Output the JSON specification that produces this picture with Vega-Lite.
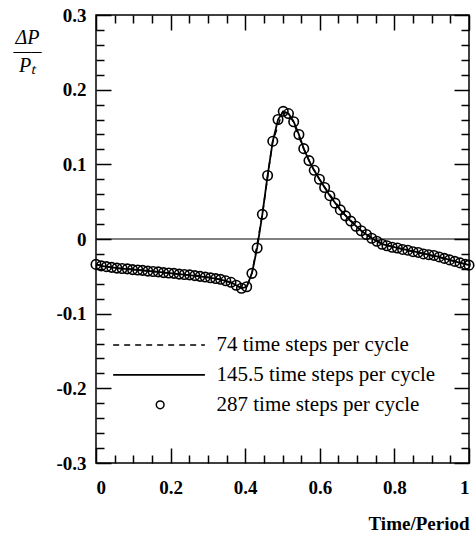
{
  "$schema": "https://vega.github.io/schema/vega-lite/v6.json",
  "width": 373,
  "height": 448,
  "autosize": "none",
  "padding": {"left": 96, "top": 15, "right": 6, "bottom": 74},
  "background": "white",
  "config": {
    "view": {"stroke": "black", "strokeWidth": 1.5},
    "axis": {"grid": false, "domain": false, "tickColor": "black", "tickWidth": 1.5, "labelColor": "black", "titleColor": "black", "labelFont": "Liberation Serif", "titleFont": "Liberation Serif"}
  },
  "datasets": {
    "curves": [
      {"series": "287", "t": 0.000, "dp": -0.034},
      {"series": "287", "t": 0.014, "dp": -0.036},
      {"series": "287", "t": 0.028, "dp": -0.037},
      {"series": "287", "t": 0.042, "dp": -0.038},
      {"series": "287", "t": 0.056, "dp": -0.039},
      {"series": "287", "t": 0.070, "dp": -0.0395},
      {"series": "287", "t": 0.084, "dp": -0.040},
      {"series": "287", "t": 0.098, "dp": -0.041},
      {"series": "287", "t": 0.112, "dp": -0.0415},
      {"series": "287", "t": 0.125, "dp": -0.042},
      {"series": "287", "t": 0.139, "dp": -0.043},
      {"series": "287", "t": 0.153, "dp": -0.0435},
      {"series": "287", "t": 0.167, "dp": -0.044},
      {"series": "287", "t": 0.181, "dp": -0.045},
      {"series": "287", "t": 0.195, "dp": -0.0455},
      {"series": "287", "t": 0.209, "dp": -0.046},
      {"series": "287", "t": 0.223, "dp": -0.047},
      {"series": "287", "t": 0.237, "dp": -0.0475},
      {"series": "287", "t": 0.251, "dp": -0.048},
      {"series": "287", "t": 0.265, "dp": -0.049},
      {"series": "287", "t": 0.279, "dp": -0.050},
      {"series": "287", "t": 0.293, "dp": -0.051},
      {"series": "287", "t": 0.307, "dp": -0.052},
      {"series": "287", "t": 0.321, "dp": -0.053},
      {"series": "287", "t": 0.334, "dp": -0.054},
      {"series": "287", "t": 0.348, "dp": -0.056},
      {"series": "287", "t": 0.362, "dp": -0.058},
      {"series": "287", "t": 0.376, "dp": -0.062},
      {"series": "287", "t": 0.390, "dp": -0.066},
      {"series": "287", "t": 0.404, "dp": -0.064},
      {"series": "287", "t": 0.418, "dp": -0.046},
      {"series": "287", "t": 0.432, "dp": -0.012},
      {"series": "287", "t": 0.446, "dp": 0.033},
      {"series": "287", "t": 0.460, "dp": 0.085},
      {"series": "287", "t": 0.474, "dp": 0.131},
      {"series": "287", "t": 0.488, "dp": 0.160},
      {"series": "287", "t": 0.502, "dp": 0.171},
      {"series": "287", "t": 0.516, "dp": 0.168},
      {"series": "287", "t": 0.530, "dp": 0.157},
      {"series": "287", "t": 0.544, "dp": 0.140},
      {"series": "287", "t": 0.557, "dp": 0.121},
      {"series": "287", "t": 0.571, "dp": 0.105},
      {"series": "287", "t": 0.585, "dp": 0.092},
      {"series": "287", "t": 0.599, "dp": 0.080},
      {"series": "287", "t": 0.613, "dp": 0.069},
      {"series": "287", "t": 0.627, "dp": 0.058},
      {"series": "287", "t": 0.641, "dp": 0.048},
      {"series": "287", "t": 0.655, "dp": 0.039},
      {"series": "287", "t": 0.669, "dp": 0.031},
      {"series": "287", "t": 0.683, "dp": 0.024},
      {"series": "287", "t": 0.697, "dp": 0.017},
      {"series": "287", "t": 0.711, "dp": 0.011},
      {"series": "287", "t": 0.725, "dp": 0.006},
      {"series": "287", "t": 0.739, "dp": 0.001},
      {"series": "287", "t": 0.753, "dp": -0.003},
      {"series": "287", "t": 0.767, "dp": -0.007},
      {"series": "287", "t": 0.780, "dp": -0.009},
      {"series": "287", "t": 0.794, "dp": -0.011},
      {"series": "287", "t": 0.808, "dp": -0.012},
      {"series": "287", "t": 0.822, "dp": -0.014},
      {"series": "287", "t": 0.836, "dp": -0.015},
      {"series": "287", "t": 0.850, "dp": -0.017},
      {"series": "287", "t": 0.864, "dp": -0.018},
      {"series": "287", "t": 0.878, "dp": -0.020},
      {"series": "287", "t": 0.892, "dp": -0.021},
      {"series": "287", "t": 0.906, "dp": -0.022},
      {"series": "287", "t": 0.920, "dp": -0.024},
      {"series": "287", "t": 0.934, "dp": -0.026},
      {"series": "287", "t": 0.948, "dp": -0.028},
      {"series": "287", "t": 0.962, "dp": -0.030},
      {"series": "287", "t": 0.976, "dp": -0.032},
      {"series": "287", "t": 0.990, "dp": -0.034},
      {"series": "287", "t": 1.000, "dp": -0.035},

      {"series": "145.5", "t": 0.000, "dp": -0.034},
      {"series": "145.5", "t": 0.014, "dp": -0.036},
      {"series": "145.5", "t": 0.056, "dp": -0.039},
      {"series": "145.5", "t": 0.112, "dp": -0.0415},
      {"series": "145.5", "t": 0.167, "dp": -0.044},
      {"series": "145.5", "t": 0.223, "dp": -0.047},
      {"series": "145.5", "t": 0.279, "dp": -0.050},
      {"series": "145.5", "t": 0.321, "dp": -0.053},
      {"series": "145.5", "t": 0.348, "dp": -0.056},
      {"series": "145.5", "t": 0.362, "dp": -0.058},
      {"series": "145.5", "t": 0.376, "dp": -0.062},
      {"series": "145.5", "t": 0.390, "dp": -0.066},
      {"series": "145.5", "t": 0.404, "dp": -0.064},
      {"series": "145.5", "t": 0.418, "dp": -0.046},
      {"series": "145.5", "t": 0.432, "dp": -0.012},
      {"series": "145.5", "t": 0.446, "dp": 0.033},
      {"series": "145.5", "t": 0.460, "dp": 0.085},
      {"series": "145.5", "t": 0.474, "dp": 0.131},
      {"series": "145.5", "t": 0.488, "dp": 0.160},
      {"series": "145.5", "t": 0.502, "dp": 0.171},
      {"series": "145.5", "t": 0.516, "dp": 0.168},
      {"series": "145.5", "t": 0.530, "dp": 0.157},
      {"series": "145.5", "t": 0.544, "dp": 0.140},
      {"series": "145.5", "t": 0.557, "dp": 0.121},
      {"series": "145.5", "t": 0.571, "dp": 0.105},
      {"series": "145.5", "t": 0.585, "dp": 0.092},
      {"series": "145.5", "t": 0.599, "dp": 0.080},
      {"series": "145.5", "t": 0.627, "dp": 0.058},
      {"series": "145.5", "t": 0.655, "dp": 0.039},
      {"series": "145.5", "t": 0.683, "dp": 0.024},
      {"series": "145.5", "t": 0.711, "dp": 0.011},
      {"series": "145.5", "t": 0.739, "dp": 0.001},
      {"series": "145.5", "t": 0.767, "dp": -0.007},
      {"series": "145.5", "t": 0.808, "dp": -0.012},
      {"series": "145.5", "t": 0.864, "dp": -0.018},
      {"series": "145.5", "t": 0.920, "dp": -0.024},
      {"series": "145.5", "t": 0.962, "dp": -0.030},
      {"series": "145.5", "t": 1.000, "dp": -0.035},

      {"series": "74", "t": 0.000, "dp": -0.034},
      {"series": "74", "t": 0.054, "dp": -0.039},
      {"series": "74", "t": 0.108, "dp": -0.041},
      {"series": "74", "t": 0.162, "dp": -0.044},
      {"series": "74", "t": 0.216, "dp": -0.047},
      {"series": "74", "t": 0.270, "dp": -0.049},
      {"series": "74", "t": 0.324, "dp": -0.053},
      {"series": "74", "t": 0.365, "dp": -0.059},
      {"series": "74", "t": 0.392, "dp": -0.066},
      {"series": "74", "t": 0.405, "dp": -0.063},
      {"series": "74", "t": 0.419, "dp": -0.044},
      {"series": "74", "t": 0.446, "dp": 0.033},
      {"series": "74", "t": 0.473, "dp": 0.129},
      {"series": "74", "t": 0.500, "dp": 0.170},
      {"series": "74", "t": 0.527, "dp": 0.159},
      {"series": "74", "t": 0.554, "dp": 0.124},
      {"series": "74", "t": 0.581, "dp": 0.095},
      {"series": "74", "t": 0.608, "dp": 0.073},
      {"series": "74", "t": 0.662, "dp": 0.035},
      {"series": "74", "t": 0.716, "dp": 0.009},
      {"series": "74", "t": 0.770, "dp": -0.007},
      {"series": "74", "t": 0.824, "dp": -0.014},
      {"series": "74", "t": 0.878, "dp": -0.020},
      {"series": "74", "t": 0.932, "dp": -0.026},
      {"series": "74", "t": 1.000, "dp": -0.035}
    ],
    "legend": [
      {"series": "74", "x0": 0.046, "x1": 0.292, "y": -0.142, "label": "74 time steps per cycle"},
      {"series": "145.5", "x0": 0.046, "x1": 0.292, "y": -0.182, "label": "145.5 time steps per cycle"},
      {"series": "287", "x0": 0.172, "x1": 0.172, "y": -0.222, "label": "287 time steps per cycle"}
    ],
    "zero": [{"x0": 0, "x1": 1, "y": 0}]
  },
  "resolve": {"axis": {"x": "independent", "y": "independent"}},
  "layer": [
    {
      "data": {"name": "zero"},
      "mark": {"type": "rule", "color": "black", "strokeWidth": 1},
      "encoding": {
        "x": {"field": "x0", "type": "quantitative", "scale": {"domain": [0, 1], "nice": false, "zero": false},
          "axis": {"orient": "bottom", "values": [0, 0.2, 0.4, 0.6, 0.8, 1], "tickSize": -15, "labelPadding": 30, "labelFontSize": 19, "labelFontWeight": "bold", "labelBaseline": "top",
            "labelExpr": "datum.value == 0 ? '0' : datum.value == 1 ? '1' : format(datum.value, '.1f')",
            "title": "Time/Period", "titleFontSize": 19, "titleFontWeight": "bold", "titleAlign": "right", "titleAnchor": "end", "titleBaseline": "alphabetic", "titleX": 373, "titleY": 66}},
        "x2": {"field": "x1"},
        "y": {"field": "y", "type": "quantitative", "scale": {"domain": [-0.3, 0.3], "nice": false, "zero": false},
          "axis": {"orient": "left", "values": [-0.3, -0.2, -0.1, 0, 0.1, 0.2, 0.3], "tickSize": -15, "labelPadding": 25, "labelFontSize": 19, "labelFontWeight": "bold", "labelBaseline": "middle",
            "labelExpr": "datum.value == 0 ? '0' : (datum.value < 0 ? '-' + format(-datum.value, '.1f') : format(datum.value, '.1f'))",
            "title": ["ΔP", "—–", "Pₜ"], "titleFontSize": 20, "titleFontStyle": "italic", "titleFontWeight": "normal", "titleAngle": 0, "titleAlign": "center", "titleBaseline": "alphabetic", "titleX": -69, "titleY": 28, "titleLineHeight": 14}}
      }
    },
    {
      "data": {"name": "curves"},
      "transform": [{"filter": "datum.series == '74'"}],
      "mark": {"type": "line", "color": "black", "strokeWidth": 1.5, "strokeDash": [6, 5]},
      "encoding": {
        "x": {"field": "t", "type": "quantitative", "scale": {"domain": [0, 1], "nice": false, "zero": false},
          "axis": {"orient": "bottom", "values": [0.05, 0.1, 0.15, 0.25, 0.3, 0.35, 0.45, 0.5, 0.55, 0.65, 0.7, 0.75, 0.85, 0.9, 0.95], "tickSize": -8, "labels": false, "title": null}},
        "y": {"field": "dp", "type": "quantitative", "scale": {"domain": [-0.3, 0.3], "nice": false, "zero": false},
          "axis": {"orient": "left", "values": [-0.28, -0.26, -0.24, -0.22, -0.18, -0.16, -0.14, -0.12, -0.08, -0.06, -0.04, -0.02, 0.02, 0.04, 0.06, 0.08, 0.12, 0.14, 0.16, 0.18, 0.22, 0.24, 0.26, 0.28], "tickSize": -8, "labels": false, "title": null}}
      }
    },
    {
      "data": {"name": "curves"},
      "transform": [{"filter": "datum.series == '145.5'"}],
      "mark": {"type": "line", "color": "black", "strokeWidth": 1.8},
      "encoding": {
        "x": {"field": "t", "type": "quantitative", "scale": {"domain": [0, 1], "nice": false, "zero": false},
          "axis": {"orient": "top", "values": [0, 0.2, 0.4, 0.6, 0.8, 1], "tickSize": -15, "labels": false, "title": null}},
        "y": {"field": "dp", "type": "quantitative", "scale": {"domain": [-0.3, 0.3], "nice": false, "zero": false},
          "axis": {"orient": "right", "values": [-0.3, -0.2, -0.1, 0, 0.1, 0.2, 0.3], "tickSize": -15, "labels": false, "title": null}}
      }
    },
    {
      "data": {"name": "curves"},
      "transform": [{"filter": "datum.series == '287'"}],
      "mark": {"type": "point", "shape": "circle", "filled": false, "color": "black", "strokeWidth": 1.6, "size": 90, "opacity": 1},
      "encoding": {
        "x": {"field": "t", "type": "quantitative", "scale": {"domain": [0, 1], "nice": false, "zero": false},
          "axis": {"orient": "top", "values": [0.05, 0.1, 0.15, 0.25, 0.3, 0.35, 0.45, 0.5, 0.55, 0.65, 0.7, 0.75, 0.85, 0.9, 0.95], "tickSize": -8, "labels": false, "title": null}},
        "y": {"field": "dp", "type": "quantitative", "scale": {"domain": [-0.3, 0.3], "nice": false, "zero": false},
          "axis": {"orient": "right", "values": [-0.28, -0.26, -0.24, -0.22, -0.18, -0.16, -0.14, -0.12, -0.08, -0.06, -0.04, -0.02, 0.02, 0.04, 0.06, 0.08, 0.12, 0.14, 0.16, 0.18, 0.22, 0.24, 0.26, 0.28], "tickSize": -8, "labels": false, "title": null}}
      }
    },
    {
      "data": {"name": "legend"},
      "transform": [{"filter": "datum.series == '74'"}],
      "mark": {"type": "rule", "color": "black", "strokeWidth": 1.5, "strokeDash": [6, 5]},
      "encoding": {
        "x": {"field": "x0", "type": "quantitative", "axis": null},
        "x2": {"field": "x1"},
        "y": {"field": "y", "type": "quantitative", "axis": null}
      }
    },
    {
      "data": {"name": "legend"},
      "transform": [{"filter": "datum.series == '145.5'"}],
      "mark": {"type": "rule", "color": "black", "strokeWidth": 1.8},
      "encoding": {
        "x": {"field": "x0", "type": "quantitative", "axis": null},
        "x2": {"field": "x1"},
        "y": {"field": "y", "type": "quantitative", "axis": null}
      }
    },
    {
      "data": {"name": "legend"},
      "transform": [{"filter": "datum.series == '287'"}],
      "mark": {"type": "point", "shape": "circle", "filled": false, "color": "black", "strokeWidth": 1.5, "size": 60, "opacity": 1},
      "encoding": {
        "x": {"field": "x0", "type": "quantitative", "axis": null},
        "y": {"field": "y", "type": "quantitative", "axis": null}
      }
    },
    {
      "data": {"name": "legend"},
      "mark": {"type": "text", "align": "left", "baseline": "middle", "font": "Liberation Serif", "fontSize": 21, "color": "black"},
      "encoding": {
        "x": {"datum": 0.323, "type": "quantitative", "axis": null},
        "y": {"field": "y", "type": "quantitative", "axis": null},
        "text": {"field": "label"}
      }
    }
  ]
}
